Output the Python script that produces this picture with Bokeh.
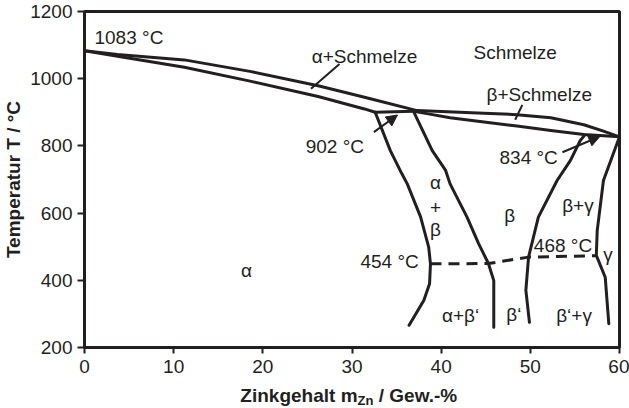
from bokeh.plotting import figure
from bokeh.layouts import column
from bokeh.models import FixedTicker, Arrow, NormalHead, Label
from bokeh.embed import file_html
from bokeh.resources import INLINE

# ---- data (x: Zn content in wt.-%, T: temperature in °C) ----
x_ticks = [0, 10, 20, 30, 40, 50, 60]
y_ticks = [200, 400, 600, 800, 1000, 1200]

liq_alpha_x = [0, 3.7, 11.2, 18.7, 26.2, 31.4, 37.3]
liq_alpha_T = [1083, 1072, 1056, 1021, 979, 945, 905]

sol_alpha_x = [0, 3.7, 11.2, 18.7, 26.2, 31.4, 32.6]
sol_alpha_T = [1083, 1067, 1034, 992, 947, 910, 900]

peri902_x = [32.6, 36.9, 37.3]
peri902_T = [900, 903, 905]

liq_beta_x = [37.3, 44.8, 48.5, 52.3, 56.0, 58.2, 60]
liq_beta_T = [905, 897, 893, 884, 863, 844, 827]

sol_beta_x = [36.9, 38.4, 41.0, 44.8, 48.5, 52.3, 56.0, 60]
sol_beta_T = [903, 896, 884, 871, 859, 846, 834, 827]

alpha_bnd_x = [32.6, 34.3, 35.4, 36.2, 37.7, 38.6, 38.8, 38.7, 38.05, 36.4]
alpha_bnd_T = [900, 786, 727, 687, 588, 499, 449, 390, 340, 266]

beta_bnd_x = [36.9, 39.0, 40.5, 41.0, 42.9, 44.2, 45.3, 45.9, 45.9]
beta_bnd_T = [903, 786, 727, 687, 588, 509, 450, 399, 260]

beta_gamma_x = [56.1, 55.6, 54.5, 53.0, 50.9, 49.8, 49.5, 49.9]
beta_gamma_T = [832, 816, 757, 697, 588, 469, 370, 275]

gamma_x = [60, 58.2, 57.5, 57.4, 58.4, 58.8]
gamma_T = [827, 697, 548, 474, 409, 271]

order_x = [38.8, 45.3, 49.8, 57.4]
order_T = [449, 450, 469, 473]

lead_alpha_x = [28.6, 25.4]
lead_alpha_T = [1044, 970]
lead_beta_x = [49.1, 48.3]
lead_beta_T = [922, 878]

arrow902 = (32.45, 841, 35.1, 892)
arrow834 = (53.6, 781, 57.8, 828)

# (text, x, T, align)
labels = [
    ("Schmelze", 48.3, 1077, "center"),
    ("α+Schmelze", 31.4, 1065, "center"),
    ("β+Schmelze", 51.0, 952, "center"),
    ("1083 °C", 1.12, 1122, "left"),
    ("902 °C", 31.35, 798, "right"),
    ("834 °C", 53.08, 764, "right"),
    ("454 °C", 37.49, 457, "right"),
    ("468 °C", 50.39, 505, "left"),
    ("α", 18.17, 428, "center"),
    ("α", 39.36, 692, "center"),
    ("+", 39.36, 618, "center"),
    ("β", 39.36, 552, "center"),
    ("β", 47.7, 592, "center"),
    ("β+γ", 55.34, 623, "center"),
    ("γ", 58.7, 478, "center"),
    ("α+β‘", 42.17, 295, "center"),
    ("β‘", 48.15, 297, "center"),
    ("β‘+γ", 54.9, 295, "center"),
]

INK = "#231f20"
FONT = "Liberation Sans"

p = figure(width=629, height=383, x_range=(0, 60), y_range=(200, 1200),
           output_backend="svg", toolbar_location=None,
           min_border_left=84, min_border_right=10,
           min_border_top=11, min_border_bottom=36)
p.background_fill_color = "white"
p.border_fill_color = "white"
p.grid.visible = False
p.outline_line_color = INK
p.outline_line_width = 3
p.outline_line_alpha = 1

for ax in (p.xaxis[0], p.yaxis[0]):
    ax.axis_line_color = INK
    ax.axis_line_width = 3
    ax.major_tick_line_color = INK
    ax.major_tick_line_width = 2
    ax.major_tick_in = 0
    ax.minor_tick_line_color = None
    ax.major_label_text_font = FONT
    ax.major_label_text_font_size = "19px"
    ax.major_label_text_color = INK

p.xaxis.ticker = FixedTicker(ticks=x_ticks)
p.yaxis.ticker = FixedTicker(ticks=y_ticks)
p.xaxis.major_tick_out = 6
p.yaxis.major_tick_out = 7
p.xaxis.major_label_standoff = 6
p.yaxis.major_label_standoff = 5

p.yaxis.axis_label = "Temperatur T / °C"
p.yaxis.axis_label_text_font = FONT
p.yaxis.axis_label_text_font_style = "bold"
p.yaxis.axis_label_text_font_size = "19px"
p.yaxis.axis_label_text_color = INK
p.yaxis.axis_label_standoff = 3

lw = 3
for xs, ts in [(liq_alpha_x, liq_alpha_T), (sol_alpha_x, sol_alpha_T),
               (peri902_x, peri902_T), (liq_beta_x, liq_beta_T),
               (sol_beta_x, sol_beta_T), (alpha_bnd_x, alpha_bnd_T),
               (beta_bnd_x, beta_bnd_T), (beta_gamma_x, beta_gamma_T),
               (gamma_x, gamma_T)]:
    p.line(xs, ts, line_color=INK, line_width=lw, line_join="round", line_cap="round")

p.line(order_x, order_T, line_color=INK, line_width=lw, line_dash="11 7")
p.line(lead_alpha_x, lead_alpha_T, line_color=INK, line_width=2)
p.line(lead_beta_x, lead_beta_T, line_color=INK, line_width=2)

for (x0, y0, x1, y1) in (arrow902, arrow834):
    p.add_layout(Arrow(end=NormalHead(size=11, fill_color=INK, line_color=INK, line_width=1),
                       x_start=x0, y_start=y0, x_end=x1, y_end=y1,
                       line_color=INK, line_width=2))

for txt, x, t, al in labels:
    p.add_layout(Label(x=x, y=t, text=txt, text_font=FONT, text_font_size="19px",
                       text_color=INK, text_align=al, text_baseline="middle"))

# x-axis title with subscript, in a thin strip figure below the plot
q = figure(width=629, height=25, x_range=(0, 60), y_range=(0, 25),
           output_backend="svg", toolbar_location=None,
           x_axis_type=None, y_axis_type=None,
           min_border_left=84, min_border_right=10,
           min_border_top=0, min_border_bottom=0)
q.outline_line_color = None
q.grid.visible = False
q.background_fill_color = "white"
q.border_fill_color = "white"

q.add_layout(Label(x=30.62, y=13.5, text="Zinkgehalt m", text_font=FONT,
                   text_font_size="19px", text_font_style="bold", text_color=INK,
                   text_align="right", text_baseline="middle"))
q.add_layout(Label(x=30.62, y=8, text="Zn", text_font=FONT,
                   text_font_size="13px", text_font_style="bold", text_color=INK,
                   text_align="left", text_baseline="middle"))
q.add_layout(Label(x=33.0, y=13.5, text="/ Gew.-%", text_font=FONT,
                   text_font_size="19px", text_font_style="bold", text_color=INK,
                   text_align="left", text_baseline="middle"))

layout = column(p, q, spacing=0)
open("out.html", "w").write(file_html(layout, INLINE))
